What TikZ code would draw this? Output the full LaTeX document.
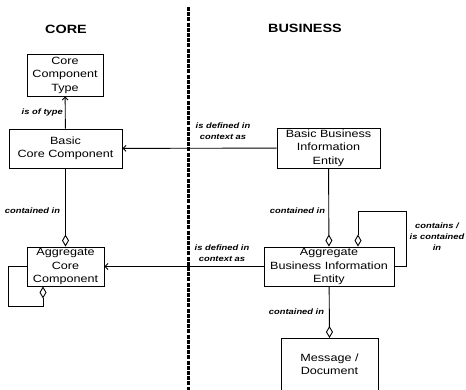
\documentclass[tikz,border=0pt]{standalone}
\usepackage{fontspec}
\setmainfont{Liberation Sans}[FakeStretch=1.2]
\usetikzlibrary{arrows.meta}

\begin{document}
\begin{tikzpicture}[x=1pt, y=-1pt]
  \tikzset{box/.style={draw, line width=0.9pt, align=center, inner sep=0pt,
                       font=\fontsize{10.5}{13.5}\selectfont},
           rel/.style={align=center, inner sep=0pt,
                       font=\fontsize{7.8}{11}\selectfont\bfseries\itshape},
           side/.style={inner sep=0pt, font=\fontsize{12}{14}\selectfont\bfseries},
           link/.style={line width=0.9pt},
           ref/.style={link, -{Straight Barb[length=3pt, width=6pt]}},
           part/.style={link, -{Diamond[open, length=12pt, width=7pt]}}}
  \useasboundingbox (0,0) rectangle (466,390);

  \node[side] (core) at (66,29) {CORE};
  \node[side] (business) at (305,28) {BUSINESS};

  \node[box, minimum width=76, minimum height=42] (cct) at (65,75) {Core\\Component\\Type};
  \node[box, minimum width=113, minimum height=39] (bcc) at (65.5,148.5) {Basic\\Core Component};
  \node[box, minimum width=77, minimum height=39] (acc) at (65.5,266.5) {Aggregate\\Core\\Component};
  \node[box, minimum width=103, minimum height=40] (bbie) at (328.5,148) {Basic Business\\Information\\Entity};
  \node[box, minimum width=130, minimum height=39] (abie) at (329,266.5) {Aggregate\\Business Information\\Entity};
  \node[box, minimum width=97, minimum height=70, anchor=north] (msg) at (329.5,338) {};
  \node[box, draw=none] (msgtext) at (329.5,364) {Message /\\Document};

  \coordinate (divtop) at (188,7);
  \coordinate (divbot) at (188,392);
  \coordinate (accloop) at (8,306);
  \coordinate (abieloop) at (406,211);

  \draw[ref] (bcc) -- (cct);
  \draw[ref] (bbie) -- (bcc);
  \draw[ref] (abie) -- (acc);
  \draw[part] (bcc) -- (acc);
  \draw[part] (bbie) -- (abie);
  \draw[part] (abie) -- (msg.north);
  \draw[part] (acc.west) -| (accloop) -| ([xshift=-22.5pt]acc.south);
  \draw[part] (abie.east) -| (abieloop) -| ([xshift=29pt]abie.north);

  \draw[line width=3pt, dash pattern=on 4pt off 1.2pt] (divtop) -- (divbot);

  \node[rel, anchor=east] (oftype) at (63,112) {is of type};
  \node[rel] (incontext1) at (223,131) {is defined in\\context as};
  \node[rel] (incontext2) at (222,253) {is defined in\\context as};
  \node[rel] (contained1) at (32.5,211) {contained in};
  \node[rel] (contained2) at (297.5,211) {contained in};
  \node[rel] (contained3) at (296.5,312) {contained in};
  \node[rel] (contains) at (437,237) {contains /\\is contained\\in};
\end{tikzpicture}
\end{document}
